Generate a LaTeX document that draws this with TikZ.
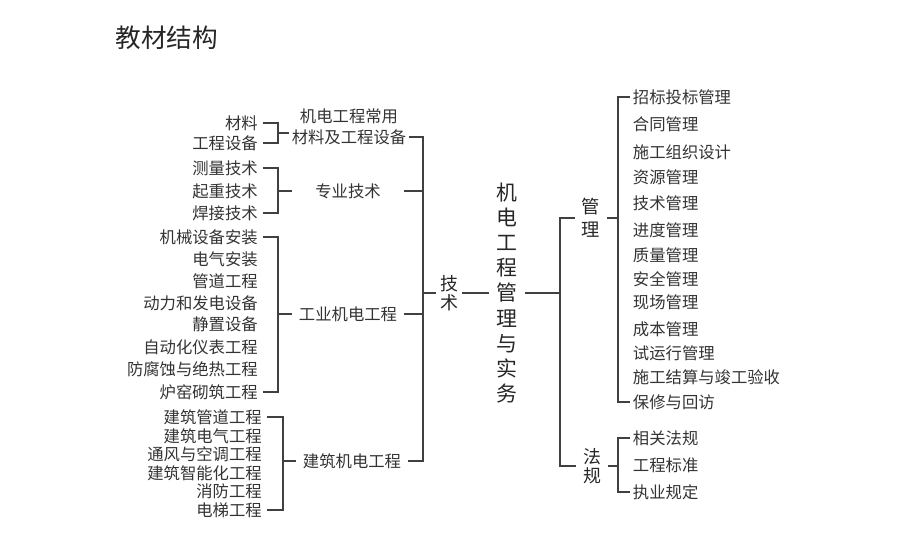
\documentclass[tikz,border=0pt]{standalone}
\usepackage{fontspec}
\setmainfont{Noto Sans CJK SC}

\begin{document}
\begin{tikzpicture}[x=0.02cm,y=-0.02cm,
   leafl/.style={anchor=east,inner xsep=2.8pt,inner ysep=0pt,text=black!80,font=\fontsize{9.3}{11}\selectfont},
   leafr/.style={anchor=west,inner xsep=1.5pt,inner ysep=0pt,text=black!80,font=\fontsize{9.3}{11}\selectfont},
   grp/.style={inner sep=0pt,minimum width=2.24cm,text=black!80,font=\fontsize{9.3}{11}\selectfont},
   vtxt/.style={align=center,inner sep=0pt,text=black!85,font=\fontsize{10.2}{10.6}\selectfont},
   link/.style={draw=black!75,line width=0.7pt}]
   \useasboundingbox (0,0) rectangle (913,552);
   \node[anchor=west,inner sep=0pt,text=black!85,font=\fontsize{14.6}{16}\selectfont] (title) at (115,38) {教材结构};
   % technique side
   \node[leafl] (t_1)  at (263,123) {材料};
   \node[leafl] (t_2)  at (263,143) {工程设备};
   \node[leafl] (t_3)  at (263,168) {测量技术};
   \node[leafl] (t_4)  at (263,191) {起重技术};
   \node[leafl] (t_5)  at (263,213) {焊接技术};
   \node[leafl] (t_6)  at (263,237) {机械设备安装};
   \node[leafl] (t_7)  at (263,259) {电气安装};
   \node[leafl] (t_8)  at (263,281) {管道工程};
   \node[leafl] (t_9)  at (263,303) {动力和发电设备};
   \node[leafl] (t_10) at (263,324) {静置设备};
   \node[leafl] (t_11) at (263,347) {自动化仪表工程};
   \node[leafl] (t_12) at (263,369) {防腐蚀与绝热工程};
   \node[leafl] (t_13) at (263,392) {炉窑砌筑工程};
   \node[leafl] (t_14) at (267,417) {建筑管道工程};
   \node[leafl] (t_15) at (267,436) {建筑电气工程};
   \node[leafl] (t_16) at (267,454) {通风与空调工程};
   \node[leafl] (t_17) at (267,473) {建筑智能化工程};
   \node[leafl] (t_18) at (267,491) {消防工程};
   \node[leafl] (t_19) at (267,510) {电梯工程};
   \coordinate (b_1) at (278,133);
   \coordinate (b_2) at (278,191);
   \coordinate (b_3) at (278,314);
   \coordinate (b_4) at (283,461);
   \node[grp,minimum width=2.38cm,label={[grp,label distance=3pt]above:机电工程常用}] (g_1) at (349,137) {材料及工程设备};
   \node[grp] (g_2) at (348,191) {专业技术};
   \node[grp] (g_3) at (348,314) {工业机电工程};
   \node[grp] (g_4) at (352,461) {建筑机电工程};
   \coordinate (s_1) at (423,293);
   \node[vtxt,minimum width=0.52cm] (js) at (449,293) {技\\术};
   \node[vtxt,minimum width=0.7cm,font=\fontsize{11.9}{14.3}\selectfont] (zt) at (507,293) {机\\电\\工\\程\\管\\理\\与\\实\\务};
   % management side
   \coordinate (s_2) at (560,293);
   \node[vtxt,minimum width=0.62cm,font=\fontsize{10.4}{13}\selectfont] (gl) at (591,218) {管\\理};
   \node[vtxt,minimum width=0.62cm] (fg) at (592,466) {法\\规};
   \coordinate (s_3) at (618,218);
   \coordinate (s_4) at (618,466);
   \node[leafr] (r_1)  at (630,97)  {招标投标管理};
   \node[leafr] (r_2)  at (630,124) {合同管理};
   \node[leafr] (r_3)  at (630,152) {施工组织设计};
   \node[leafr] (r_4)  at (630,177) {资源管理};
   \node[leafr] (r_5)  at (630,203) {技术管理};
   \node[leafr] (r_6)  at (630,230) {进度管理};
   \node[leafr] (r_7)  at (630,255) {质量管理};
   \node[leafr] (r_8)  at (630,279) {安全管理};
   \node[leafr] (r_9)  at (630,302) {现场管理};
   \node[leafr] (r_10) at (630,329) {成本管理};
   \node[leafr] (r_11) at (630,353) {试运行管理};
   \node[leafr] (r_12) at (630,377) {施工结算与竣工验收};
   \node[leafr] (r_13) at (630,402) {保修与回访};
   \node[leafr] (f_1)  at (630,438) {相关法规};
   \node[leafr] (f_2)  at (630,465) {工程标准};
   \node[leafr] (f_3)  at (630,492) {执业规定};
   \draw[link] (t_1.east) -| (b_1) |- (t_2.east);
   \draw[link] (b_1) -- (b_1 -| g_1.west);
   \draw[link] (t_3.east) -| (b_2) |- (t_5.east);
   \draw[link] (b_2) -- (g_2.west);
   \draw[link] (t_6.east) -| (b_3) |- (t_13.east);
   \draw[link] (b_3) -- (g_3.west);
   \draw[link] (t_14.east) -| (b_4) |- (t_19.east);
   \draw[link] (b_4) -- (g_4.west);
   \draw[link] (g_1.east) -| (s_1) |- (g_4.east);
   \draw[link] (g_2.east) -- (g_2.east -| s_1);
   \draw[link] (g_3.east) -- (g_3.east -| s_1);
   \draw[link] (s_1) -- (js.west);
   \draw[link] (js.east) -- (zt.west);
   \draw[link] (zt.east) -- (s_2);
   \draw[link] (gl.west) -| (s_2) |- (fg.west);
   \draw[link] (gl.east) -- (s_3);
   \draw[link] (r_1.west) -| (s_3) |- (r_13.west);
   \draw[link] (fg.east) -- (s_4);
   \draw[link] (f_1.west) -| (s_4) |- (f_3.west);
\end{tikzpicture}
\end{document}
